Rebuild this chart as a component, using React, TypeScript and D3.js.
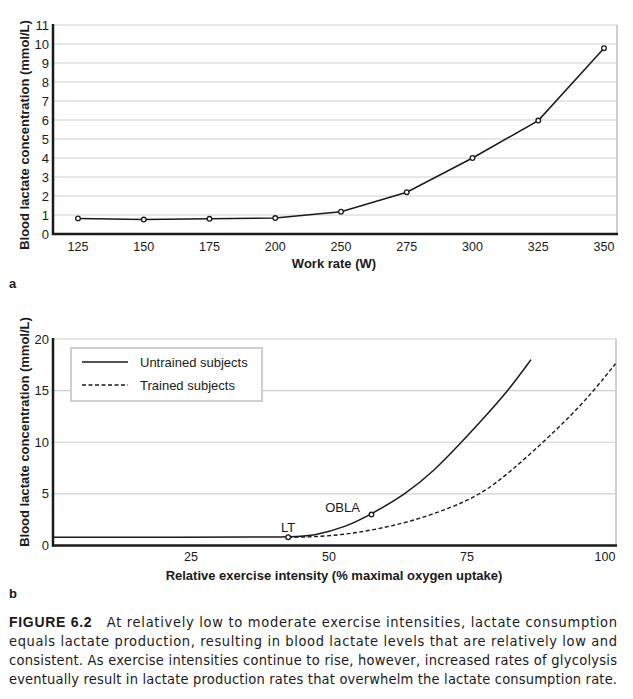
import React from 'react'
import * as d3 from 'd3'

// Panel a: blood lactate vs work rate
const workRates = ['125', '150', '175', '200', '250', '275', '300', '325', '350']
const lactateByWork = [0.82, 0.76, 0.8, 0.84, 1.17, 2.2, 4.0, 5.97, 9.78]
const yTicksA = [0, 1, 2, 3, 4, 5, 6, 7, 8, 9, 10, 11]

// Panel b: blood lactate vs relative intensity
const untrainedX = [0, 42.6, 47.2, 53.2, 57.7, 63.8, 69, 74, 77.8, 82.5, 86.6]
const untrainedY = [0.8, 0.8, 0.92, 1.82, 3.05, 4.95, 7.2, 10, 12.2, 15, 18.0]
const trainedX = [42.6, 47, 53, 58.6, 64.7, 71.9, 77.7, 83, 88.8, 93.7, 98, 101.9]
const trainedY = [0.8, 0.82, 1.06, 1.57, 2.3, 3.6, 5.0, 7.2, 10, 12.5, 15, 17.6]
const xTicksB = [25, 50, 75, 100]
const yTicksB = [0, 5, 10, 15, 20]
const markers = [
  { label: 'LT', x: 42.6, y: 0.8 },
  { label: 'OBLA', x: 57.7, y: 3.0 },
]
const legendItems = ['Untrained subjects', 'Trained subjects']

const captionLines = [
  'At relatively low to moderate exercise intensities, lactate consumption',
  'equals lactate production, resulting in blood lactate levels that are relatively low and',
  'consistent. As exercise intensities continue to rise, however, increased rates of glycolysis',
  'eventually result in lactate production rates that overwhelm the lactate consumption rate.',
]

const FONT = '"Liberation Sans", Arial, Helvetica, sans-serif'
const GRID = '#cfcfcf'
const INK = '#1a1a1a'

export default function App() {
  // ---- panel a scales
  const xA = d3.scalePoint<string>().domain(workRates).range([78, 604])
  const yA = d3.scaleLinear().domain([0, 11]).range([234, 25])
  const lineA = d3
    .line<number>()
    .x((_, i) => xA(workRates[i]) || 0)
    .y((d) => yA(d))

  // ---- panel b scales
  const xB = d3.scaleLinear().domain([0, 102]).range([53, 616])
  const yB = d3.scaleLinear().domain([0, 20]).range([545.5, 339])
  const curve = d3
    .line<[number, number]>()
    .x((d) => xB(d[0]))
    .y((d) => yB(d[1]))
    .curve(d3.curveBasis)
  const untrained = untrainedX.map((x, i) => [x, untrainedY[i]] as [number, number])
  const trained = trainedX.map((x, i) => [x, trainedY[i]] as [number, number])

  return (
    <svg
      width={633}
      height={699}
      style={{ position: 'absolute', left: 0, top: 0, background: '#fff' }}
      fontFamily={FONT}
    >
      <rect width={633} height={699} fill="#fff" />

      {/* ===== Panel a ===== */}
      <g>
        {yTicksA.slice(1).map((t) => (
          <line key={t} x1={53} x2={617} y1={yA(t)} y2={yA(t)} stroke={GRID} strokeWidth={1.2} />
        ))}
        <line x1={617} x2={617} y1={yA(11)} y2={yA(0)} stroke={GRID} strokeWidth={2} />
        <line x1={53} x2={53} y1={yA(11) - 1} y2={yA(0) + 1} stroke={INK} strokeWidth={2.5} />
        <line x1={52} x2={618} y1={yA(0)} y2={yA(0)} stroke={INK} strokeWidth={2.5} />
        {yTicksA.map((t) => (
          <text key={t} x={49} y={yA(t)} dy="0.35em" textAnchor="end" fontSize={13} fill={INK}>
            {t}
          </text>
        ))}
        {workRates.map((w) => (
          <text key={w} x={xA(w)} y={247} dy="0.35em" textAnchor="middle" fontSize={12.5} fill={INK}>
            {w}
          </text>
        ))}
        <path d={lineA(lactateByWork) || ''} fill="none" stroke={INK} strokeWidth={1.5} />
        {lactateByWork.map((v, i) => (
          <circle key={i} cx={xA(workRates[i])} cy={yA(v)} r={2.3} fill="#fff" stroke={INK} strokeWidth={1.3} />
        ))}
        <text x={334} y={263} dy="0.35em" textAnchor="middle" fontSize={13} fontWeight="bold" fill={INK}>
          Work rate (W)
        </text>
        <text
          transform="translate(24,135) rotate(-90)"
          dy="0.35em"
          textAnchor="middle"
          fontSize={13}
          fontWeight="bold"
          fill={INK}
        >
          Blood lactate concentration (mmol/L)
        </text>
        <text x={9} y={288} fontSize={13} fontWeight="bold" fill={INK}>
          a
        </text>
      </g>

      {/* ===== Panel b ===== */}
      <g>
        {yTicksB.slice(1).map((t) => (
          <line key={t} x1={53} x2={616} y1={yB(t)} y2={yB(t)} stroke={GRID} strokeWidth={1.2} />
        ))}
        <line x1={616} x2={616} y1={yB(20)} y2={yB(0)} stroke={GRID} strokeWidth={2} />
        <line x1={53} x2={53} y1={yB(20) - 1} y2={yB(0) + 1} stroke={INK} strokeWidth={2.5} />
        <line x1={52} x2={617} y1={yB(0)} y2={yB(0)} stroke={INK} strokeWidth={2.5} />
        {yTicksB.map((t) => (
          <text key={t} x={49} y={yB(t)} dy="0.35em" textAnchor="end" fontSize={13} fill={INK}>
            {t}
          </text>
        ))}
        {xTicksB.map((t) => (
          <text key={t} x={xB(t)} y={557} dy="0.35em" textAnchor="middle" fontSize={12.5} fill={INK}>
            {t}
          </text>
        ))}

        {/* legend */}
        <rect x={71} y={348} width={191} height={53} fill="#fff" stroke={GRID} strokeWidth={2} />
        <line x1={82} x2={128} y1={362} y2={362} stroke={INK} strokeWidth={1.5} />
        <line x1={82} x2={128} y1={385} y2={385} stroke={INK} strokeWidth={1.5} strokeDasharray="4,2.5" />
        {legendItems.map((s, i) => (
          <text key={s} x={140} y={362 + i * 23} dy="0.35em" fontSize={13} fill={INK}>
            {s}
          </text>
        ))}

        <path d={curve(trained) || ''} fill="none" stroke={INK} strokeWidth={1.4} strokeDasharray="4,2.5" />
        <path d={curve(untrained) || ''} fill="none" stroke={INK} strokeWidth={1.5} />
        {markers.map((m) => (
          <g key={m.label}>
            <circle cx={xB(m.x)} cy={yB(m.y)} r={2.3} fill="#fff" stroke={INK} strokeWidth={1.3} />
            <text
              x={m.label === 'LT' ? xB(m.x) : xB(m.x) - 29}
              y={m.label === 'LT' ? yB(m.y) - 10 : yB(m.y) - 7}
              dy="0.35em"
              textAnchor="middle"
              fontSize={13}
              fill={INK}
            >
              {m.label}
            </text>
          </g>
        ))}

        <text x={334} y={575} dy="0.35em" textAnchor="middle" fontSize={13} fontWeight="bold" fill={INK}>
          Relative exercise intensity (% maximal oxygen uptake)
        </text>
        <text
          transform="translate(24,432) rotate(-90)"
          dy="0.35em"
          textAnchor="middle"
          fontSize={13}
          fontWeight="bold"
          fill={INK}
        >
          Blood lactate concentration (mmol/L)
        </text>
        <text x={9} y={598} fontSize={13} fontWeight="bold" fill={INK}>
          b
        </text>
      </g>

      {/* ===== Caption ===== */}
      <g fontFamily={'"Liberation Sans Narrow", "DejaVu Sans Condensed", "Roboto", sans-serif'} fill={INK}>
        <text x={9} y={627} fontSize={14.5} textLength={608} lengthAdjust="spacing">
          <tspan fontWeight="bold" fontFamily={FONT} fontSize={14}>FIGURE 6.2</tspan>
          <tspan>{'\u00a0\u00a0 ' + captionLines[0]}</tspan>
        </text>
        {captionLines.slice(1).map((l, i) => (
          <text key={i} x={9} y={646 + i * 19} fontSize={14.5} textLength={608} lengthAdjust="spacing">
            {l}
          </text>
        ))}
      </g>
    </svg>
  )
}
